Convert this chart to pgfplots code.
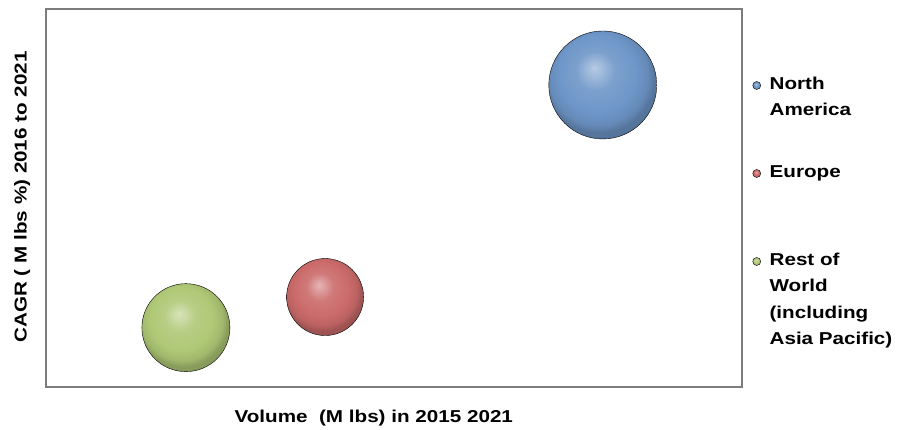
\documentclass[border=0pt]{standalone}
\usepackage{fontspec}
\setmainfont{Liberation Sans}[FakeStretch=1.2]
\usepackage{pgfplots}
\pgfplotsset{compat=1.18}
\makeatletter
\pgfdeclareradialshading[tikz@ball]{ball}{\pgfqpoint{-4bp}{8bp}}{%
 color(0bp)=(tikz@ball!50!white);
 color(9bp)=(tikz@ball!90!white);
 color(18bp)=(tikz@ball);
 color(23bp)=(tikz@ball!92!black);
 color(26bp)=(tikz@ball!78!black);
 color(50bp)=(tikz@ball!70!black)}
\makeatother
\definecolor{nablue}{RGB}{110,150,200}
\definecolor{eured}{RGB}{203,106,106}
\definecolor{rowgreen}{RGB}{175,200,118}
\definecolor{framegray}{RGB}{125,125,125}
\newcommand{\chartfont}{\fontsize{17.2}{26.5}\selectfont\bfseries}
\begin{document}
\begin{tikzpicture}
\useasboundingbox (0,0) rectangle (897pt,430pt);
\begin{axis}[
  at={(46pt,43pt)}, anchor=south west,
  width=696pt, height=378pt, scale only axis,
  xmin=0, xmax=100, ymin=0, ymax=100,
  xtick=\empty, ytick=\empty,
  axis line style={draw=framegray, line width=1.6pt},
  xlabel={Volume\ \ (M lbs) in 2015 2021},
  ylabel={CAGR ( M lbs \%) 2016 to 2021},
  xlabel style={at={(axis description cs:0.471,-0.0934)}, anchor=base, font=\chartfont},
  ylabel style={at={(axis description cs:-0.0277,0.503)}, anchor=base, font=\chartfont},
  legend style={at={(axis description cs:1.0151,0.8200)}, anchor=north west,
    draw=none, fill=none, inner sep=0pt, outer sep=0pt,
    row sep={88pt,between origins}, column sep=8.7pt,
    cells={anchor=base west}, nodes={inner sep=0pt, outer sep=0pt},
    font=\chartfont},
]
% bubbles: (volume, CAGR), marker radius = bubble size
\addplot[only marks, mark=ball, mark size=54pt, mark options={ball color=nablue}, forget plot]
  coordinates {(80.0,79.9)};
\addplot[only marks, mark=ball, mark size=38.5pt, mark options={ball color=eured}, forget plot]
  coordinates {(40.1,23.8)};
\addplot[only marks, mark=ball, mark size=44pt, mark options={ball color=rowgreen}, forget plot]
  coordinates {(20.1,15.7)};
\addlegendimage{legend image code/.code={\path[mark=ball,mark size=4pt,mark options={ball color=nablue}] plot coordinates {(0pt,4pt)};}}
\addlegendentry{\parbox[t]{140pt}{North\\America}}
\addlegendimage{legend image code/.code={\path[mark=ball,mark size=4pt,mark options={ball color=eured}] plot coordinates {(0pt,4pt)};}}
\addlegendentry{\parbox[t]{140pt}{Europe}}
\addlegendimage{legend image code/.code={\path[mark=ball,mark size=4pt,mark options={ball color=rowgreen}] plot coordinates {(0pt,4pt)};}}
\addlegendentry{\parbox[t]{140pt}{Rest of\\World\\(including\\Asia Pacific)}}
\end{axis}
\end{tikzpicture}
\end{document}
